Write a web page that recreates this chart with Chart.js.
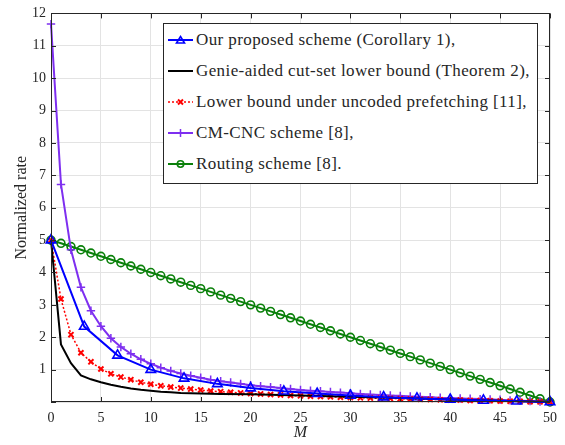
<!DOCTYPE html>
<html><head><meta charset="utf-8">
<script src="https://cdn.jsdelivr.net/npm/chart.js@4/dist/chart.umd.min.js"></script>
<style>
html,body{margin:0;padding:0;background:#fff;}
#wrap{position:relative;width:565px;height:445px;}
#legend{position:absolute;left:163px;top:23px;width:373px;height:159px;border:1px solid #262626;background:#fff;font-family:'Liberation Serif','Times New Roman',serif;font-size:17px;color:#262626;letter-spacing:0.4px;}
.row{position:absolute;left:0;height:20px;display:flex;align-items:center;white-space:nowrap;}
.row svg{margin-left:4px;margin-right:3px;flex:none;}
</style></head>
<body><div id="wrap"><canvas id="c" width="565" height="445"></canvas><div id="legend"></div></div>
<script>
// ---------- data ----------
const xTicks = [0, 5, 10, 15, 20, 25, 30, 35, 40, 45, 50];
const yTicks = [0, 1, 2, 3, 4, 5, 6, 7, 8, 9, 10, 11, 12];

const M_int = [0,1,2,3,4,5,6,7,8,9,10,11,12,13,14,15,16,17,18,19,20,21,22,23,24,25,26,27,28,29,30,31,32,33,34,35,36,37,38,39,40,41,42,43,44,45,46,47,48,49,50];

const M_proposed = [0, 3.33, 6.67, 10, 13.33, 16.67, 20, 23.33, 26.67, 30, 33.33, 36.67, 40, 43.33, 46.67, 50];
const proposed   = [5, 2.33, 1.44, 1.0, 0.73, 0.56, 0.43, 0.33, 0.26, 0.2, 0.15, 0.11, 0.077, 0.048, 0.022, 0];

const M_genie = [0,1,2,3,4,5,6,7,8,9,10,11,12,13,14,15,17,20,25,30,35,40,45,50];
const genie   = [5,1.78,1.2,0.82,0.7,0.61,0.53,0.47,0.42,0.38,0.35,0.32,0.3,0.28,0.27,0.26,0.25,0.24,0.2,0.16,0.12,0.08,0.04,0];

const uncoded = [5,3.18,2.08,1.52,1.24,1.02,0.87,0.77,0.69,0.61,0.55,0.5,0.46,0.43,0.4,0.37,0.34,0.32,0.3,0.28,0.26,0.25,0.23,0.22,0.2,0.19,0.18,0.17,0.16,0.15,0.14,0.13,0.12,0.115,0.11,0.1,0.09,0.085,0.08,0.07,0.065,0.06,0.05,0.045,0.04,0.03,0.025,0.02,0.01,0.005,0];

const cmcnc = [11.67,6.72,4.7,3.54,2.82,2.34,1.97,1.7,1.49,1.32,1.18,1.06,0.96,0.88,0.81,0.75,0.69,0.64,0.6,0.56,0.52,0.49,0.46,0.43,0.4,0.37,0.35,0.33,0.31,0.29,0.27,0.25,0.23,0.22,0.2,0.19,0.17,0.16,0.15,0.13,0.12,0.11,0.1,0.09,0.08,0.07,0.05,0.04,0.03,0.015,0];

const routing = [5,4.9,4.8,4.7,4.6,4.5,4.4,4.3,4.2,4.1,4,3.9,3.8,3.7,3.6,3.5,3.4,3.3,3.2,3.1,3,2.9,2.8,2.7,2.6,2.5,2.4,2.3,2.2,2.1,2,1.9,1.8,1.7,1.6,1.5,1.4,1.3,1.2,1.1,1,0.9,0.8,0.7,0.6,0.5,0.4,0.3,0.2,0.1,0];

const labels = [
  'Our proposed scheme (Corollary 1),',
  'Genie-aided cut-set lower bound (Theorem 2),',
  'Lower bound under uncoded prefetching [11],',
  'CM-CNC scheme [8],',
  'Routing scheme [8].'
];

// ---------- styles ----------
const BLUE = '#0000ff', BLACK = '#000000', RED = '#ff0000', PURPLE = '#7e2ff0', GREEN = '#0a800a';
const AXIS = '#262626', GRID = '#e3e3e3';
const FONT = "'Liberation Serif', 'Times New Roman', serif";

const pts = (xs, ys) => xs.map((x, i) => ({x: x, y: ys[i]}));

const datasets = [
  {label: labels[0], data: pts(M_proposed, proposed), borderColor: BLUE, borderWidth: 2,
   pointStyle: 'triangle', pointRadius: 5.5, pointBorderWidth: 1.6, pointBackgroundColor: 'rgba(0,0,0,0)', pointBorderColor: BLUE},
  {label: labels[1], data: pts(M_genie, genie), borderColor: BLACK, borderWidth: 2, pointRadius: 0},
  {label: labels[2], data: pts(M_int, uncoded), borderColor: RED, borderWidth: 1.5, borderDash: [2, 2],
   pointStyle: 'crossRot', pointRadius: 3.6, pointBorderWidth: 2, pointBorderColor: RED},
  {label: labels[3], data: pts(M_int, cmcnc), borderColor: PURPLE, borderWidth: 2,
   pointStyle: 'cross', pointRadius: 4.2, pointBorderWidth: 1.5, pointBorderColor: PURPLE},
  {label: labels[4], data: pts(M_int, routing), borderColor: GREEN, borderWidth: 2,
   pointStyle: 'circle', pointRadius: 3.9, pointBorderWidth: 1.6, pointBackgroundColor: 'rgba(0,0,0,0)', pointBorderColor: GREEN}
];
datasets.forEach(d => { d.fill = false; d.tension = 0; d.clip = false; });

// box + inward ticks like MATLAB
const boxPlugin = {
  id: 'box',
  afterDraw(chart) {
    const {ctx, chartArea: a, scales: {x, y}} = chart;
    ctx.save();
    ctx.strokeStyle = AXIS; ctx.lineWidth = 1;
    ctx.beginPath();
    x.ticks.forEach(t => {
      const px = Math.round(x.getPixelForValue(t.value)) + 0.5;
      ctx.moveTo(px, a.bottom); ctx.lineTo(px, a.bottom - 5);
      ctx.moveTo(px, a.top); ctx.lineTo(px, a.top + 5);
    });
    y.ticks.forEach(t => {
      const py = Math.round(y.getPixelForValue(t.value)) + 0.5;
      ctx.moveTo(a.left, py); ctx.lineTo(a.left + 5, py);
      ctx.moveTo(a.right, py); ctx.lineTo(a.right - 5, py);
    });
    ctx.stroke();
    ctx.strokeRect(Math.round(a.left) + 0.5, Math.round(a.top) + 0.5,
                   Math.round(a.right - a.left) - 1, Math.round(a.bottom - a.top) - 1);
    ctx.restore();
  }
};

new Chart(document.getElementById('c'), {
  type: 'line',
  data: {datasets: datasets},
  options: {
    responsive: false, animation: false,
    layout: {padding: {left: 0, right: 10, top: 10, bottom: 0}},
    plugins: {legend: {display: false}, tooltip: {enabled: false}},
    scales: {
      x: {
        type: 'linear', min: 0, max: 50,
        afterBuildTicks: s => { s.ticks = xTicks.map(v => ({value: v})); },
        afterFit: s => { s.height = 43; },
        grid: {color: GRID, drawTicks: false, lineWidth: 1},
        border: {display: false},
        ticks: {color: AXIS, padding: 8, maxRotation: 0, font: {family: FONT, size: 14}},
        title: {display: true, text: 'M', color: AXIS, padding: {top: 0, bottom: 2.5},
                font: {family: FONT, size: 16, style: 'italic'}}
      },
      y: {
        type: 'linear', min: 0, max: 12,
        afterBuildTicks: s => { s.ticks = yTicks.map(v => ({value: v})); },
        afterFit: s => { s.width = 51; },
        grid: {color: GRID, drawTicks: false, lineWidth: 1},
        border: {display: false},
        ticks: {color: AXIS, padding: 5, font: {family: FONT, size: 14},
                callback: v => (v === 0 ? '' : String(v))},
        title: {display: true, text: 'Normalized rate', color: AXIS, padding: {top: 12.5, bottom: 0},
                font: {family: FONT, size: 16}}
      }
    }
  },
  plugins: [boxPlugin]
});

// ---------- legend (HTML, real text) ----------
const legendStyles = [
  {color: BLUE, dash: '', marker: 'tri'},
  {color: BLACK, dash: '', marker: ''},
  {color: RED, dash: '2,2', marker: 'x'},
  {color: PURPLE, dash: '', marker: 'plus'},
  {color: GREEN, dash: '', marker: 'circ'}
];
const rowCenters = [16, 46.5, 78, 109, 139.5];
const leg = document.getElementById('legend');
labels.forEach((txt, i) => {
  const st = legendStyles[i];
  const c = st.color;
  let mk = '';
  if (st.marker === 'tri') mk = `<polygon points="12.5,2.5 16.5,9 8.5,9" fill="none" stroke="${c}" stroke-width="1.6"/>`;
  if (st.marker === 'x') mk = `<path d="M10,3.5 L15,8.5 M15,3.5 L10,8.5" stroke="${c}" stroke-width="2"/>`;
  if (st.marker === 'plus') mk = `<path d="M12.5,2 L12.5,10 M8.5,6 L16.5,6" stroke="${c}" stroke-width="1.5"/>`;
  if (st.marker === 'circ') mk = `<circle cx="12.5" cy="6" r="3.2" fill="none" stroke="${c}" stroke-width="1.6"/>`;
  const svg = `<svg width="25" height="12" viewBox="0 0 25 12"><line x1="0" y1="6" x2="25" y2="6" stroke="${c}" stroke-width="${i === 2 ? 1.5 : 2}" ${st.dash ? `stroke-dasharray="${st.dash}"` : ''}/>${mk}</svg>`;
  const row = document.createElement('div');
  row.className = 'row';
  row.style.top = (rowCenters[i] - 10) + 'px';
  row.innerHTML = svg + '<span></span>';
  row.querySelector('span').textContent = txt;
  leg.appendChild(row);
});
</script>
</body></html>
